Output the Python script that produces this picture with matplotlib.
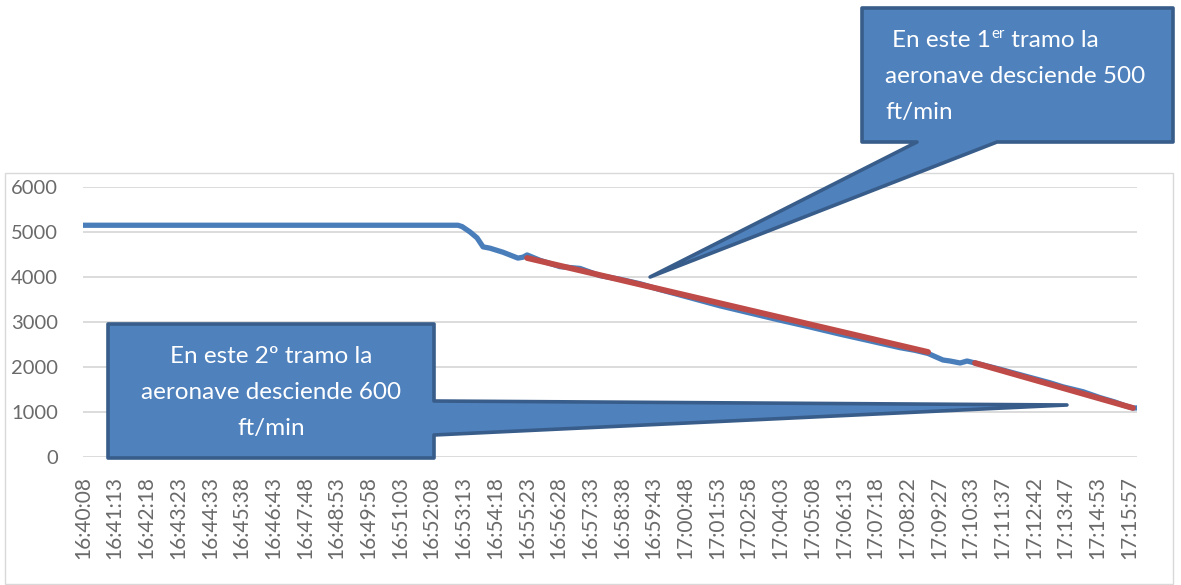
import matplotlib
matplotlib.use("Agg")
import matplotlib.pyplot as plt
from matplotlib.patches import Polygon, Rectangle
from matplotlib.transforms import IdentityTransform

W, H = 1181, 585
FONT = "Lato"

# ---- data (x in label-index units: 0 = first label) ----
tick_labels = ["16:40:08", "16:41:13", "16:42:18", "16:43:23", "16:44:33", "16:45:38",
               "16:46:43", "16:47:48", "16:48:53", "16:49:58", "16:51:03", "16:52:08",
               "16:53:13", "16:54:18", "16:55:23", "16:56:28", "16:57:33", "16:58:38",
               "16:59:43", "17:00:48", "17:01:53", "17:02:58", "17:04:03", "17:05:08",
               "17:06:13", "17:07:18", "17:08:22", "17:09:27", "17:10:33", "17:11:37",
               "17:12:42", "17:13:47", "17:14:53", "17:15:57"]

alt_x = [0, 11.83, 11.96, 12.21, 12.43, 12.62, 12.84, 13.25, 13.72, 13.88, 14.01,
         14.42, 15.05, 15.68, 16.31, 16.94, 17.57, 18.20, 19.15, 20.09, 21.04,
         21.99, 22.93, 23.88, 24.83, 25.77, 26.25, 26.66, 27.13, 27.35, 27.67,
         27.89, 28.14, 28.93, 29.87, 30.50, 30.91, 31.55, 32.08, 32.56, 32.87,
         33.12, 33.25]
alt_y = [5150, 5150, 5120, 5000, 4870, 4670, 4640, 4550, 4420, 4440, 4490,
         4370, 4230, 4190, 4030, 3950, 3850, 3720, 3540, 3360, 3200,
         3040, 2890, 2730, 2580, 2430, 2370, 2300, 2155, 2133, 2089,
         2133, 2089, 1950, 1770, 1650, 1560, 1450, 1320, 1220, 1140,
         1090, 1090]

trend1_x = [14.01, 26.66]
trend1_y = [4422, 2333]
trend2_x = [28.14, 33.12]
trend2_y = [2089, 1089]

yticks = [0, 1000, 2000, 3000, 4000, 5000, 6000]

callout1_lines = ["aeronave desciende 500", "ft/min"]
callout2_lines = ["En este 2º tramo la", "aeronave desciende 600", "ft/min"]

# ---- figure ----
fig = plt.figure(figsize=(W / 100, H / 100), dpi=100)
ax = fig.add_axes([83 / W, 1 - 457 / H, (1137 - 83) / W, (457 - 187) / H])

ax.plot(alt_x, alt_y, color="#4A7EBB", lw=3.8, solid_capstyle="round",
        solid_joinstyle="round", zorder=3)
ax.plot(trend1_x, trend1_y, color="#BE4B48", lw=4.2, solid_capstyle="round", zorder=4)
ax.plot(trend2_x, trend2_y, color="#BE4B48", lw=4.2, solid_capstyle="round", zorder=4)

ax.set_xlim(0, 33.25)
ax.set_ylim(0, 6000)
ax.set_yticks(yticks)
ax.set_yticklabels([str(v) for v in yticks], fontsize=14.5, color="#6A6A6A", family=FONT)
ax.set_xticks(range(len(tick_labels)))
ax.set_xticklabels(tick_labels, rotation=90, fontsize=15, color="#6A6A6A", family=FONT)
ax.tick_params(length=0)
ax.tick_params(axis="x", pad=14)
ax.tick_params(axis="y", pad=18)
ax.grid(axis="y", color="#D9D9D9", lw=1.3)
ax.set_axisbelow(True)
for s in ax.spines.values():
    s.set_visible(False)

ident = IdentityTransform()

def P(x, y):
    return (x, H - y)

# chart border
fig.patches.append(Rectangle(P(5, 584), 1168, 411, transform=ident, fill=False,
                             edgecolor="#D9D9D9", lw=1.0))

fill_c = "#4F81BD"
edge_c = "#385D8A"

# callout 1 (tip in data coords)
tip1 = ax.transData.transform((17.89, 4000))
poly1 = [P(862, 8), P(1173, 8), P(1173, 142), P(997, 142), tuple(tip1), P(917, 142), P(862, 142)]
fig.patches.append(Polygon(poly1, closed=True, transform=ident, facecolor=fill_c,
                           edgecolor=edge_c, lw=2.6, joinstyle="round", zorder=10))

tip2 = ax.transData.transform((31.04, 1156))
poly2 = [P(108, 324), P(434, 324), P(434, 401), tuple(tip2), P(434, 435), P(434, 458), P(108, 458)]
fig.patches.append(Polygon(poly2, closed=True, transform=ident, facecolor=fill_c,
                           edgecolor=edge_c, lw=2.6, joinstyle="round", zorder=10))

fs = 17.5
renderer = fig.canvas.get_renderer()
t1 = fig.text(*P(892, 47), "En este 1", transform=ident, color="white", fontsize=fs,
              family=FONT, va="baseline", ha="left", zorder=11)
bb = t1.get_window_extent(renderer)
t2 = fig.text(bb.x1 + 1, H - 47 + 9, "er", transform=ident, color="white", fontsize=fs * 0.62,
              family=FONT, va="baseline", ha="left", zorder=11)
bb2 = t2.get_window_extent(renderer)
fig.text(bb2.x1, H - 47, " tramo la", transform=ident, color="white", fontsize=fs,
         family=FONT, va="baseline", ha="left", zorder=11)
for i, line in enumerate(callout1_lines):
    fig.text(*P(885, 83 + 35.5 * i), line, transform=ident, color="white", fontsize=fs,
             family=FONT, va="baseline", ha="left", zorder=11)

for i, line in enumerate(callout2_lines):
    fig.text(*P(271, 363 + 36 * i), line, transform=ident, color="white", fontsize=fs,
             family=FONT, va="baseline", ha="center", zorder=11)

fig.savefig("out.png", dpi=100)
